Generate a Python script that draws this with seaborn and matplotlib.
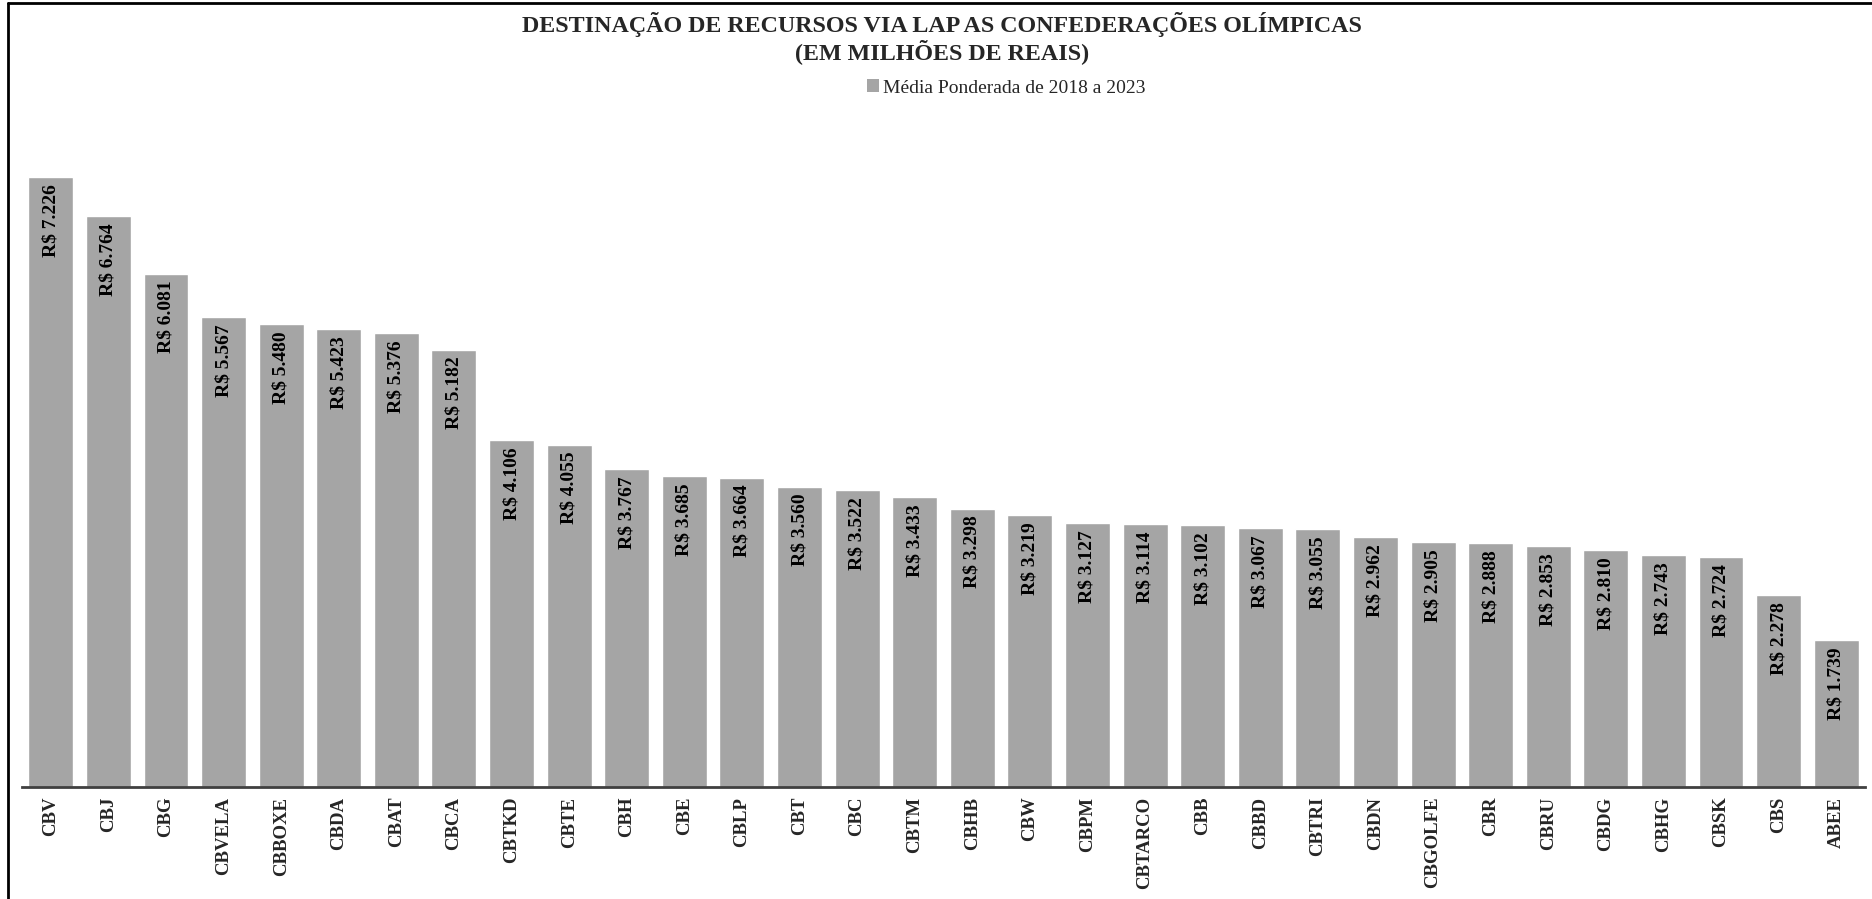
import matplotlib
matplotlib.use("Agg")
import matplotlib.pyplot as plt
import seaborn as sns
import pandas as pd
from matplotlib.patches import Patch
from matplotlib.lines import Line2D

# -----------------------------
# Data
# -----------------------------
confederacoes = ["CBV", "CBJ", "CBG", "CBVELA", "CBBOXE", "CBDA", "CBAT", "CBCA",
                 "CBTKD", "CBTE", "CBH", "CBE", "CBLP", "CBT", "CBC", "CBTM",
                 "CBHB", "CBW", "CBPM", "CBTARCO", "CBB", "CBBD", "CBTRI", "CBDN",
                 "CBGOLFE", "CBR", "CBRU", "CBDG", "CBHG", "CBSK", "CBS", "ABEE"]
valores = [7.226, 6.764, 6.081, 5.567, 5.480, 5.423, 5.376, 5.182,
           4.106, 4.055, 3.767, 3.685, 3.664, 3.560, 3.522, 3.433,
           3.298, 3.219, 3.127, 3.114, 3.102, 3.067, 3.055, 2.962,
           2.905, 2.888, 2.853, 2.810, 2.743, 2.724, 2.278, 1.739]
serie = "Média Ponderada de 2018 a 2023"
titulo_1 = "DESTINAÇÃO DE RECURSOS VIA LAP AS CONFEDERAÇÕES OLÍMPICAS"
titulo_2 = "(EM MILHÕES DE REAIS)"

df = pd.DataFrame({"conf": confederacoes, "valor": valores})

# -----------------------------
# Style
# -----------------------------
sns.set_theme(style="white")
plt.rcParams["font.family"] = ["Liberation Serif", "DejaVu Serif"]

cinza = "#a5a5a5"
W, H = 1872, 899

fig = plt.figure(figsize=(W / 100, H / 100), dpi=100)
ax = fig.add_axes([22 / W, 1 - 787 / H, (1865 - 22) / W, 8 * 84.4 / H])

sns.barplot(data=df, x="conf", y="valor", color=cinza, saturation=1,
            width=0.78, ax=ax)

ax.set_xlim(-0.5, len(confederacoes) - 0.5)
ax.set_ylim(0, 8)
ax.set_xlabel("")
ax.set_ylabel("")
ax.set_yticks([])
for s in ["top", "right", "left"]:
    ax.spines[s].set_visible(False)
ax.spines["bottom"].set_color("#404040")
ax.spines["bottom"].set_linewidth(2)

ax.tick_params(axis="x", length=0, pad=7)
ax.set_xticks(range(len(confederacoes)))
ax.set_xticklabels(confederacoes, rotation=90, fontsize=13.5,
                   va="top", ha="center")
for lbl in ax.get_xticklabels():
    lbl.set_fontweight("bold")

# value labels inside the bars
for i, v in enumerate(valores):
    ax.annotate(f"R$ {v:.3f}", xy=(i, v), xytext=(0, -5),
                textcoords="offset points", rotation=90,
                ha="center", va="top", fontsize=14, fontweight="bold",
                color="black")

# title
fig.text(942 / W, 1 - 32 / H, titulo_1, ha="center", va="baseline",
         fontsize=17.3, fontweight="bold")
fig.text(942 / W, 1 - 59 / H, titulo_2, ha="center", va="baseline",
         fontsize=17.3, fontweight="bold")

# legend
fig.legend(handles=[Patch(facecolor=cinza, edgecolor="none", label=serie)],
           loc="center", bbox_to_anchor=(1006 / W, 1 - 88 / H),
           frameon=False, fontsize=14, handlelength=0.6, handleheight=0.6,
           handletextpad=0.2)

# screenshot frame (top and left edges)
fig.add_artist(Line2D([8 / W, 1], [1 - 3 / H, 1 - 3 / H],
                      transform=fig.transFigure, color="black", lw=2))
fig.add_artist(Line2D([8 / W, 8 / W], [0, 1 - 3 / H],
                      transform=fig.transFigure, color="black", lw=2))

fig.savefig("out.png", dpi=100)
